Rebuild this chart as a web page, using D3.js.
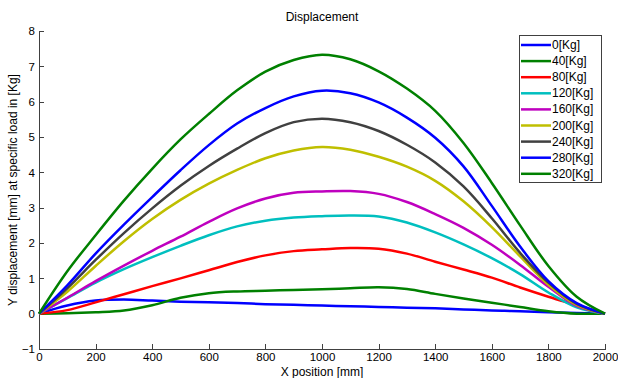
<!DOCTYPE html>
<html>
<head>
<meta charset="utf-8">
<script src="https://cdnjs.cloudflare.com/ajax/libs/d3/7.8.5/d3.min.js"></script>
<style>
body { margin: 0; background: #fff; font-family: "Liberation Sans", Arial, sans-serif; }
.axis path, .axis line { stroke: #404040; stroke-width: 1; shape-rendering: crispEdges; }
.axis text { font-size: 11.5px; fill: #000; font-family: "Liberation Sans", Arial, sans-serif; }
</style>
</head>
<body>
<svg width="618" height="378"></svg>
<script>
// x positions in mm
var xPos = [0,100,200,300,400,500,600,700,800,900,1000,1100,1200,1300,1400,1500,1600,1700,1800,1900,2000];

var loads = ["0[Kg]","40[Kg]","80[Kg]","120[Kg]","160[Kg]","200[Kg]","240[Kg]","280[Kg]","320[Kg]"];
var colors = ["#0000ff","#008000","#ff0000","#00bfbf","#bf00bf","#bfbf00","#404040","#0000ff","#008000"];

var kg0   = [0,0.23,0.37,0.40,0.37,0.34,0.32,0.30,0.27,0.25,0.23,0.21,0.19,0.17,0.15,0.12,0.09,0.07,0.04,0.02,0];
var kg40  = [0,0.01,0.04,0.09,0.24,0.45,0.58,0.63,0.65,0.67,0.69,0.72,0.75,0.70,0.56,0.43,0.31,0.19,0.07,0.0,0];
var kg80  = [0,0.10,0.32,0.55,0.78,1.00,1.23,1.46,1.65,1.77,1.82,1.86,1.84,1.70,1.47,1.25,1.02,0.74,0.48,0.24,0];
var kg120 = [0,0.44,0.88,1.26,1.60,1.92,2.22,2.47,2.63,2.72,2.76,2.78,2.75,2.58,2.30,1.96,1.57,1.12,0.60,0.18,0];
var kg160 = [0,0.45,0.92,1.36,1.78,2.18,2.60,2.98,3.26,3.42,3.46,3.47,3.39,3.16,2.82,2.43,1.95,1.38,0.76,0.22,0];
var kg200 = [0,0.62,1.35,2.05,2.68,3.22,3.68,4.07,4.40,4.62,4.72,4.64,4.44,4.16,3.76,3.18,2.45,1.62,0.82,0.25,0];
var kg240 = [0,0.72,1.52,2.28,2.98,3.62,4.18,4.67,5.11,5.42,5.52,5.42,5.17,4.78,4.28,3.60,2.70,1.72,0.88,0.28,0];
var kg280 = [0,0.80,1.70,2.52,3.30,4.06,4.77,5.38,5.82,6.15,6.31,6.24,5.98,5.55,4.98,4.17,3.05,1.90,0.92,0.30,0];
var kg320 = [0,1.20,2.22,3.20,4.10,4.93,5.65,6.32,6.85,7.18,7.33,7.20,6.86,6.37,5.74,4.83,3.70,2.50,1.35,0.48,0];

var series = [kg0,kg40,kg80,kg120,kg160,kg200,kg240,kg280,kg320];

var xTicks = [0,200,400,600,800,1000,1200,1400,1600,1800,2000];
var yTicks = [-1,0,1,2,3,4,5,6,7,8];

var svg = d3.select("svg");

var x = d3.scaleLinear().domain([0, 2000]).range([39, 605]);
var y = d3.scaleLinear().domain([-1, 8]).range([349, 31]);

// axes, ticks pointing inward like matlab
svg.append("g")
  .attr("class", "axis")
  .attr("transform", "translate(0,349)")
  .call(d3.axisBottom(x).tickValues(xTicks).tickFormat(d3.format("d"))
    .tickSizeInner(-5).tickSizeOuter(0).tickPadding(4));

svg.append("g")
  .attr("class", "axis")
  .attr("transform", "translate(39,0)")
  .call(d3.axisLeft(y).tickValues(yTicks).tickFormat(d3.format("d"))
    .tickSizeInner(-5).tickSizeOuter(0).tickPadding(4));

// curves
var line = d3.line()
  .x(function(d, i) { return x(xPos[i]); })
  .y(function(d) { return y(d); })
  .curve(d3.curveCatmullRom);

svg.append("g").selectAll("path")
  .data(series)
  .enter().append("path")
  .attr("d", line)
  .attr("fill", "none")
  .attr("stroke", function(d, i) { return colors[i]; })
  .attr("stroke-width", 2.5)
  .attr("stroke-linejoin", "round");

// title and labels
svg.append("text")
  .attr("x", 322).attr("y", 21)
  .attr("text-anchor", "middle")
  .style("font-size", "12px")
  .text("Displacement");

svg.append("text")
  .attr("x", 322).attr("y", 376)
  .attr("text-anchor", "middle")
  .style("font-size", "12px")
  .text("X position [mm]");

svg.append("text")
  .attr("transform", "translate(17,190) rotate(-90)")
  .attr("text-anchor", "middle")
  .style("font-size", "12px")
  .text("Y displacement [mm] at specific load in [Kg]");

// legend
var lg = svg.append("g");
lg.append("rect")
  .attr("x", 519.5).attr("y", 35.5)
  .attr("width", 82).attr("height", 147)
  .attr("fill", "#fff")
  .attr("stroke", "#404040")
  .attr("stroke-width", 1);

var items = lg.selectAll("g.item")
  .data(loads)
  .enter().append("g")
  .attr("class", "item")
  .attr("transform", function(d, i) { return "translate(0," + (45 + 16.1 * i) + ")"; });

items.append("line")
  .attr("x1", 521).attr("x2", 551)
  .attr("stroke", function(d, i) { return colors[i]; })
  .attr("stroke-width", 2.5);

items.append("text")
  .attr("x", 552).attr("y", 4)
  .style("font-size", "12px")
  .text(function(d) { return d; });
</script>
</body>
</html>
